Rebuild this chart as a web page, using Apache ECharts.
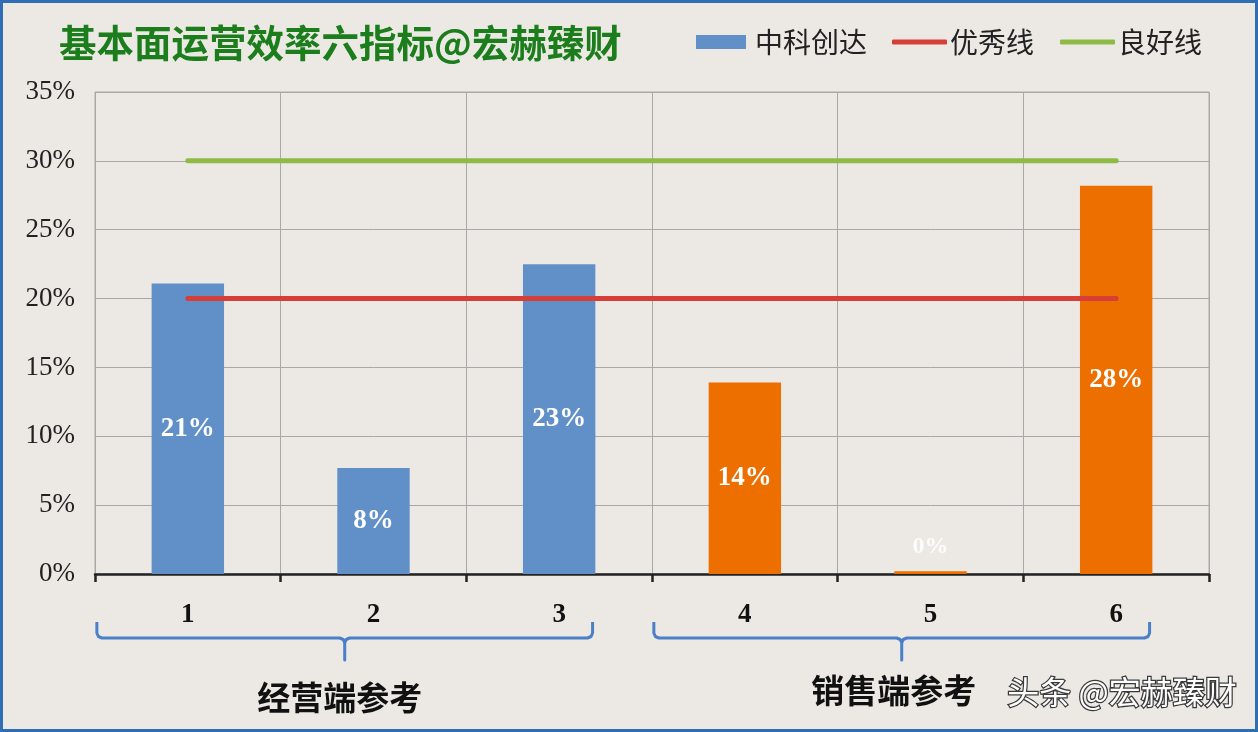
<!DOCTYPE html>
<html>
<head>
<meta charset="utf-8">
<script src="https://cdn.jsdelivr.net/npm/echarts@6/dist/echarts.min.js"></script>
<style>
html,body{margin:0;padding:0;background:#ECE9E4;}
#c{width:1258px;height:732px;}
</style>
</head>
<body>
<div id="c"></div>
<script>
// ---- data ----
const categories = ['1', '2', '3', '4', '5', '6'];
const companyValues = [21.1, 7.7, 22.5, '-', '-', '-'];     // 中科创达 (经营端)
const salesValues = ['-', '-', '-', 13.9, 0.2, 28.2];       // 销售端
const excellentLine = [20, 20, 20, 20, 20, 20];             // 优秀线
const goodLine = [30, 30, 30, 30, 30, 30];                  // 良好线
const yTicks = [0, 5, 10, 15, 20, 25, 30, 35];
const groupLabels = ['经营端参考', '销售端参考'];
const titleText = '基本面运营效率六指标@宏赫臻财';
const watermark = '头条 @宏赫臻财';

const serif = '"Liberation Serif","DejaVu Serif",serif';
const cjk = '"Noto Sans CJK SC","Noto Sans",sans-serif';

const barLabel = {
  show: true, position: 'inside', color: '#fff', fontFamily: serif,
  fontWeight: 'bold', fontSize: 27,
  formatter: p => Math.round(p.value) + '%'
};
const legendText1 = { fontFamily: cjk, fontSize: 28, color: '#222', padding: [0, 0, 0, 4] };
const legendText2 = { fontFamily: cjk, fontSize: 28, color: '#222', padding: [0, 0, 0, -2] };

const chart = echarts.init(document.getElementById('c'));
chart.setOption({
  backgroundColor: '#ECE9E4',
  animation: false,
  title: {
    text: titleText, left: 54, top: 19,
    textStyle: {
      color: '#1b7d1b', fontFamily: cjk, fontSize: 37.5, fontWeight: 'bold',
      textShadowColor: '#0b3d0b', textShadowOffsetX: 1, textShadowOffsetY: 1, textShadowBlur: 0
    }
  },
  legend: [
    {
      data: [{ name: '中科创达', icon: 'rect' }],
      left: 691, top: 23, itemWidth: 50, itemHeight: 14, textStyle: legendText1
    },
    {
      data: [{ name: '优秀线', icon: 'roundRect' }, { name: '良好线', icon: 'roundRect' }],
      left: 887, top: 23, itemWidth: 55, itemHeight: 5, itemGap: 26, textStyle: legendText2
    }
  ],
  grid: {
    left: 95, right: 49, top: 92, bottom: 158,
    show: true, borderColor: '#a8a8a8', borderWidth: 1
  },
  xAxis: {
    type: 'category', data: categories,
    axisLine: { show: true, lineStyle: { color: '#222', width: 2.5 } },
    axisTick: { show: true, length: 8, lineStyle: { color: '#222', width: 2.5 } },
    axisLabel: { fontFamily: serif, fontWeight: 'bold', fontSize: 27, color: '#111', margin: 28 },
    splitLine: { show: true, lineStyle: { color: '#a8a8a8', width: 1 } }
  },
  yAxis: {
    type: 'value', min: yTicks[0], max: yTicks[yTicks.length - 1], interval: 5,
    axisLine: { show: false }, axisTick: { show: false },
    axisLabel: { fontFamily: serif, fontSize: 27, color: '#222', margin: 20, formatter: '{value}%' },
    splitLine: { lineStyle: { color: '#a8a8a8', width: 1 } }
  },
  series: [
    {
      name: '中科创达', type: 'bar', data: companyValues, barWidth: '39%', barGap: '-100%',
      itemStyle: { color: '#6190C8' }, label: barLabel, z: 2
    },
    {
      name: '销售端', type: 'bar', barWidth: '39%', barGap: '-100%',
      data: salesValues.map(v => (v !== '-' && v < 1)
        ? { value: v, label: { position: 'top', distance: 12, color: 'rgba(255,255,255,0.85)', fontSize: 24 } }
        : v),
      itemStyle: { color: '#EC6F00' }, label: barLabel, z: 2
    },
    {
      name: '优秀线', type: 'line', data: excellentLine, symbol: 'none', z: 4,
      lineStyle: { color: '#D63E38', width: 5, cap: 'round' }, itemStyle: { color: '#D63E38' }
    },
    {
      name: '良好线', type: 'line', data: goodLine, symbol: 'none', z: 4,
      lineStyle: { color: '#8DBB45', width: 5, cap: 'round' }, itemStyle: { color: '#8DBB45' }
    }
  ]
});

// braces and group labels positioned from the axes
function bracePoints(xl, xr, yTop, yMid, yTip, r) {
  const xm = (xl + xr) / 2;
  return [
    [xl, yTop], [xl, yMid - r], [xl + r * 0.3, yMid - r * 0.3], [xl + r, yMid],
    [xm - r, yMid], [xm - r * 0.3, yMid + r * 0.3], [xm, yMid + r], [xm, yTip],
    [xm, yMid + r], [xm + r * 0.3, yMid + r * 0.3], [xm + r, yMid],
    [xr - r, yMid], [xr - r * 0.3, yMid - r * 0.3], [xr, yMid - r], [xr, yTop]
  ];
}
const c0 = chart.convertToPixel({ xAxisIndex: 0 }, 0);
const c1 = chart.convertToPixel({ xAxisIndex: 0 }, 1);
const band = c1 - c0;
const y0 = chart.convertToPixel({ yAxisIndex: 0 }, 0);
const groups = [[0, 2], [3, 5]];
const graphics = [{
  type: 'rect', shape: { x: 1.5, y: 1.5, width: 1255, height: 729 },
  style: { fill: 'none', stroke: '#2F6EB5', lineWidth: 3 }, silent: true, z: 100
}];
groups.forEach((g, i) => {
  const xl = chart.convertToPixel({ xAxisIndex: 0 }, g[0]) - band * 0.49;
  const xr = chart.convertToPixel({ xAxisIndex: 0 }, g[1]) + band * 0.18;
  graphics.push({
    type: 'polyline', shape: { points: bracePoints(xl, xr, y0 + 48, y0 + 64, y0 + 86, 5) },
    style: { fill: 'none', stroke: '#4A80C8', lineWidth: 3, lineJoin: 'round' }, silent: true
  });
  graphics.push({
    type: 'text', x: (xl + xr) / 2 - 5 + (i === 1 ? -3 : 0), y: y0 + (i === 0 ? 123 : 116),
    style: { text: groupLabels[i], font: 'bold 33px ' + cjk, fill: '#111', align: 'center', verticalAlign: 'middle' },
    silent: true
  });
});
graphics.push({
  type: 'text', x: 1122, y: y0 + 118,
  style: { text: watermark, font: '32px ' + cjk, fill: '#fff', stroke: '#3a3a3a', lineWidth: 2.5,
    align: 'center', verticalAlign: 'middle' },
  silent: true
});
chart.setOption({ graphic: graphics });
</script>
</body>
</html>
